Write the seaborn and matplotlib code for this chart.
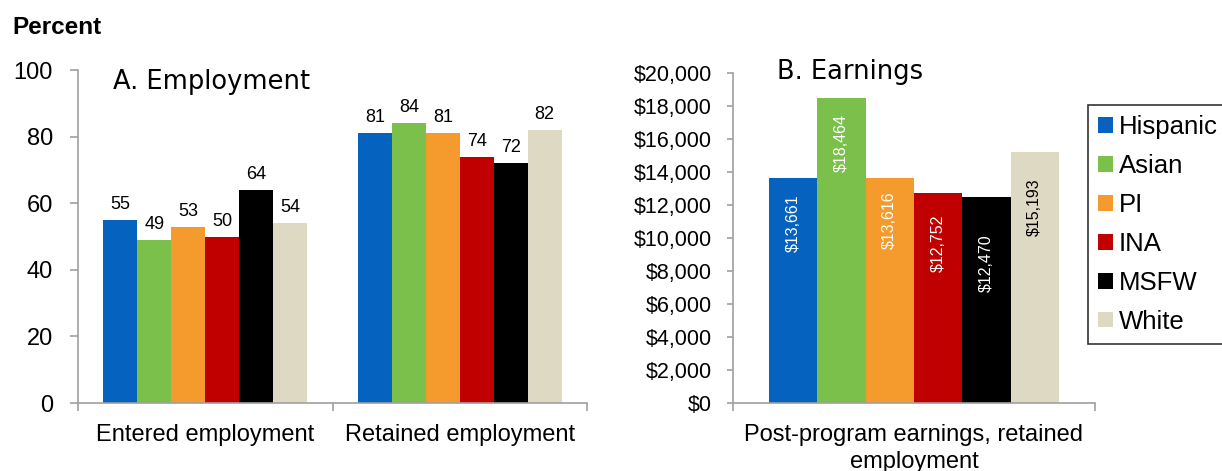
import matplotlib
matplotlib.use("Agg")
import matplotlib.pyplot as plt
from matplotlib.patches import Patch
from matplotlib.ticker import FuncFormatter, FixedLocator
import seaborn as sns
import pandas as pd

# --- data -------------------------------------------------------------
groups = ["Hispanic", "Asian", "PI", "INA", "MSFW", "White"]
colors = ["#0563BF", "#7AC04A", "#F59A2C", "#C00000", "#000000", "#DDD9C3"]

employment_measures = ["Entered employment", "Retained employment"]
entered_employment = [55, 49, 53, 50, 64, 54]
retained_employment = [81, 84, 81, 74, 72, 82]

earnings_measure = "Post-program earnings, retained\nemployment"
earnings = [13661, 18464, 13616, 12752, 12470, 15193]

# --- tables -----------------------------------------------------------
emp_df = pd.DataFrame({
    "measure": [employment_measures[0]] * len(groups) + [employment_measures[1]] * len(groups),
    "group": groups * 2,
    "value": entered_employment + retained_employment,
})
earn_df = pd.DataFrame({
    "measure": [earnings_measure] * len(groups),
    "group": groups,
    "value": earnings,
})

sns.set_style("white")
plt.rcParams["font.family"] = ["Liberation Sans", "DejaVu Sans"]
plt.rcParams["text.color"] = "black"
plt.rcParams["xtick.color"] = "black"
plt.rcParams["ytick.color"] = "black"

W, H = 1222, 471
fig = plt.figure(figsize=(W / 100, H / 100), dpi=100)

ax1 = fig.add_axes([78 / W, 1 - 403 / H, (587 - 78) / W, (403 - 70) / H])
ax2 = fig.add_axes([733 / W, 1 - 403 / H, (1095 - 733) / W, (403 - 73) / H])

palette = dict(zip(groups, colors))
spine_color = "#A0A0A0"

for ax, df in ((ax1, emp_df), (ax2, earn_df)):
    sns.barplot(data=df, x="measure", y="value", hue="group", hue_order=groups,
                palette=palette, width=0.8, saturation=1, legend=False,
                linewidth=0, edgecolor="none", ax=ax)
    for side in ("top", "right"):
        ax.spines[side].set_visible(False)
    for side in ("left", "bottom"):
        ax.spines[side].set_color(spine_color)
        ax.spines[side].set_linewidth(1.2)
    ax.set_xlabel("")
    ax.set_ylabel("")
    ax.tick_params(axis="y", which="major", left=True, direction="out",
                   color=spine_color, width=1.2, labelcolor="black")
    ax.tick_params(axis="x", which="major", bottom=True, length=0,
                   labelsize=17, pad=15, labelcolor="black")
    ax.tick_params(axis="x", which="minor", bottom=True, direction="out",
                   length=6, color=spine_color, width=1.2)

# Panel A: employment rates
ax1.set_ylim(0, 100)
ax1.set_yticks(range(0, 101, 20))
ax1.tick_params(axis="y", length=6, labelsize=17, pad=12)
ax1.set_xlim(-0.5, 1.5)
ax1.xaxis.set_minor_locator(FixedLocator([-0.5, 0.5, 1.5]))
for cont in ax1.containers:
    ax1.bar_label(cont, fmt="%d", padding=5, fontsize=13)
ax1.text(0.069, 0.964, "A. Employment", transform=ax1.transAxes,
         family="DejaVu Sans", fontsize=18.5, ha="left", va="center")

# Panel B: earnings
ax2.set_ylim(0, 20000)
ax2.set_yticks(range(0, 20001, 2000))
ax2.yaxis.set_major_formatter(FuncFormatter(lambda v, p: f"${v:,.0f}"))
ax2.tick_params(axis="y", length=4, labelsize=15.5, pad=11)
ax2.set_xlim(-0.5, 0.5)
ax2.xaxis.set_minor_locator(FixedLocator([-0.5, 0.5]))
for lbl in ax2.get_xticklabels():
    lbl.set_linespacing(1.3)

label_drop = [12, 11, 9.5, 16, 27, 19]  # points below bar top
for cont, drop, grp in zip(ax2.containers, label_drop, groups):
    bar = cont.patches[0]
    xc = bar.get_x() + bar.get_width() / 2
    h = bar.get_height()
    ax2.annotate(f"${h:,.0f}", xy=(xc, h), xytext=(0, -drop),
                 textcoords="offset points", rotation=90, ha="center",
                 va="top", fontsize=11.5,
                 color="black" if grp == "White" else "white")
ax2.text(0.1215, 1.003, "B. Earnings", transform=ax2.transAxes,
         family="DejaVu Sans", fontsize=18.5, ha="left", va="center")

# Shared legend
handles = [Patch(facecolor=c, edgecolor="none") for c in colors]
leg = fig.legend(handles, groups, loc="upper left",
                 bbox_to_anchor=(1088 / W, 1 - 105 / H),
                 fontsize=18.5, frameon=True, fancybox=False,
                 edgecolor="black", handlelength=0.56, handleheight=0.55,
                 handletextpad=0.25, labelspacing=0.58, borderpad=0.4,
                 borderaxespad=0)
leg.get_frame().set_linewidth(1.2)

fig.text(12 / W, 1 - 28 / H, "Percent", fontsize=17.5, fontweight="bold",
         ha="left", va="center")

fig.savefig("out.png", dpi=100)
